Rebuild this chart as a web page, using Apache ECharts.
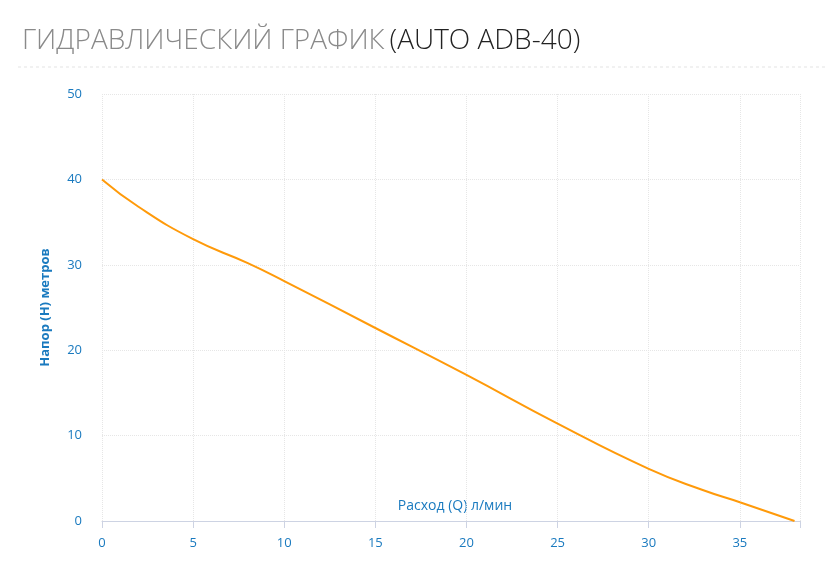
<!DOCTYPE html><html><head><meta charset="utf-8"><script src="https://cdn.jsdelivr.net/npm/echarts@6/dist/echarts.min.js"></script></head><body style="margin:0"><div id="c" style="width:828px;height:588px"></div><script>
const flow=[0,2,5,8,10,15,20,25,30,33,35,38];
const head=[40,36.8,33,30.2,28.1,22.6,17.1,11.4,6.1,3.6,2.2,0];
const xTicks=[0,5,10,15,20,25,30,35];
const xName='Расход (Q) л/мин';
const c=echarts.init(document.getElementById('c'));
c.setOption({
 title:{text:'{a|ГИДРАВЛИЧЕСКИЙ ГРАФИК} {b|(AUTO ADB-40)}',left:17,top:22,textStyle:{rich:{a:{fontFamily:'Open Sans',fontSize:28,fontWeight:300,color:'#8a8a8a'},b:{fontFamily:'Open Sans',fontSize:28,fontWeight:300,color:'#222'}}}},
 graphic:[{type:'line',shape:{x1:18,y1:67,x2:828,y2:67},style:{stroke:'#e4e4e4',lineDash:[3,3],lineWidth:1}},
  {type:'text',x:455,y:506,style:{text:xName,fill:'#1a7abf',font:'14px "Open Sans"',textAlign:'center',textVerticalAlign:'middle'}}],
 grid:{left:102,right:28,top:94,bottom:67},
 xAxis:{type:'value',min:0,max:38.3,interval:5,
  axisLine:{lineStyle:{color:'#cdd3e3'}},axisTick:{show:true,length:7,lineStyle:{color:'#cdd3e3'}},
  axisLabel:{color:'#1a7abf',fontSize:13,fontFamily:'Open Sans',margin:16,formatter:v=>xTicks.includes(v)?v:''},
  splitLine:{show:true,lineStyle:{color:'#e6e6e6',type:'dotted'}}},
 yAxis:{type:'value',min:0,max:50,interval:10,name:'Напор (H) метров',nameLocation:'middle',nameGap:50,
  nameTextStyle:{color:'#1a7abf',fontSize:13,fontWeight:'bold',fontFamily:'Open Sans'},
  axisLine:{show:false},axisTick:{show:false},
  axisLabel:{color:'#1a7abf',fontSize:13,fontFamily:'Open Sans',margin:20},
  splitLine:{lineStyle:{color:'#e6e6e6',type:'dotted'}}},
 series:[{type:'line',data:flow.map((x,i)=>[x,head[i]]),smooth:true,showSymbol:false,lineStyle:{color:'#ff9a0a',width:2}}]
});
</script></body></html>
